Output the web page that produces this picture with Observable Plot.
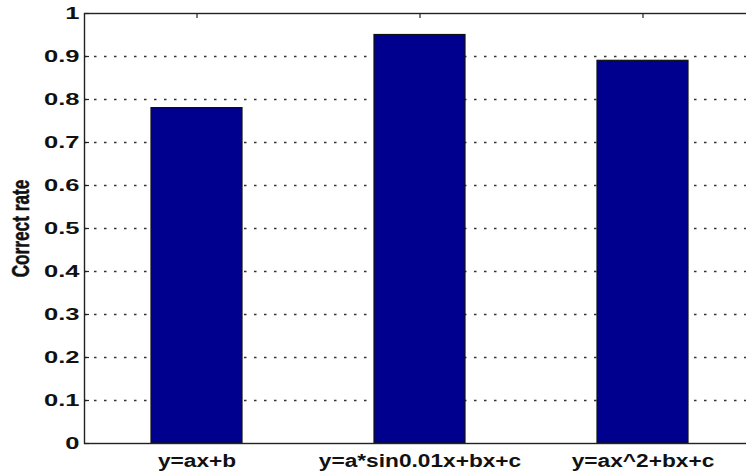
<!DOCTYPE html>
<html>
<head>
<meta charset="utf-8">
<script src="https://cdn.jsdelivr.net/npm/d3@7"></script>
<script src="https://cdn.jsdelivr.net/npm/@observablehq/plot@0.6"></script>
<style>
  html, body { margin: 0; padding: 0; background: #fff; }
  svg { display: block; }
</style>
</head>
<body>
<div id="chart"></div>
<script>
// Fitting functions compared and the share of correct predictions for each
const models = ["y=ax+b", "y=a*sin0.01x+bx+c", "y=ax^2+bx+c"];
const correctRate = [0.78, 0.95, 0.89];
const yTicks = [0, 0.1, 0.2, 0.3, 0.4, 0.5, 0.6, 0.7, 0.8, 0.9, 1];
const yTickLabels = ["0", "0.1", "0.2", "0.3", "0.4", "0.5", "0.6", "0.7", "0.8", "0.9", "1"];
const gridValues = [0.1, 0.2, 0.3, 0.4, 0.5, 0.6, 0.7, 0.8, 0.9];
const yTitle = "Correct rate";

const rows = models.map((m, i) => ({model: m, rate: correctRate[i]}));

const chart = Plot.plot({
  width: 746,
  height: 471,
  marginLeft: 84,
  marginRight: -8.5,
  marginTop: 13,
  marginBottom: 28,
  style: {fontFamily: "'Liberation Sans', Arial, sans-serif", background: "#fff"},
  x: {domain: models, paddingInner: 0.593, paddingOuter: 0.2965, axis: null},
  y: {domain: [0, 1], axis: null},
  marks: [
    // dotted horizontal grid
    Plot.ruleY(gridValues, {stroke: "#333", strokeWidth: 1.3, strokeDasharray: "2.5,7.5"}),
    // bars
    Plot.barY(rows, {x: "model", y: "rate", fill: "#00008f", stroke: "#111", strokeWidth: 1.2}),
    // box around the axes
    Plot.frame({stroke: "#222", strokeWidth: 1.4}),
    // inward ticks
    Plot.axisY({ticks: yTicks, tickSize: -5, tickFormat: () => "", label: null, stroke: "#222", strokeWidth: 1.2}),
    Plot.axisX({anchor: "top", tickSize: -4, tickFormat: () => "", label: null, stroke: "#222", strokeWidth: 1.2}),
    // tick labels
    Plot.axisY({ticks: yTicks, tickSize: 0, tickPadding: 5, label: null,
      tickFormat: (d, i) => yTickLabels[i], fontSize: 17, fontWeight: "bold", fill: "#111"}),
    Plot.axisX({anchor: "bottom", tickSize: 0, tickPadding: 11, label: null,
      fontSize: 18, fontWeight: "bold", fill: "#111"}),
    // axis title, centred on the frame's height
    Plot.text([yTitle], {text: d => d, frameAnchor: "left", textAnchor: "middle", rotate: -90, dx: -56,
      lineAnchor: "bottom", fontSize: 23, fontWeight: "bold", fill: "#111",
      stroke: "#111", strokeWidth: 0.5})
  ]
});

document.getElementById("chart").appendChild(chart);

// widen the tick labels horizontally, as in the printed figure
function stretch(selector, factor) {
  chart.querySelectorAll(selector).forEach(t => {
    const len = t.getComputedTextLength();
    if (len > 0) {
      t.setAttribute("textLength", (len * factor).toFixed(1));
      t.setAttribute("lengthAdjust", "spacingAndGlyphs");
    }
  });
}
stretch('[aria-label="y-axis tick label"] text', 1.5);
stretch('[aria-label="x-axis tick label"] text', 1.26);

// the rotated title is condensed along its reading direction
chart.querySelectorAll("text").forEach(t => {
  if (t.textContent === yTitle) {
    const tr = t.getAttribute("transform") || "";
    t.setAttribute("transform", tr + " scale(0.75,1)");
  }
});
</script>
</body>
</html>
